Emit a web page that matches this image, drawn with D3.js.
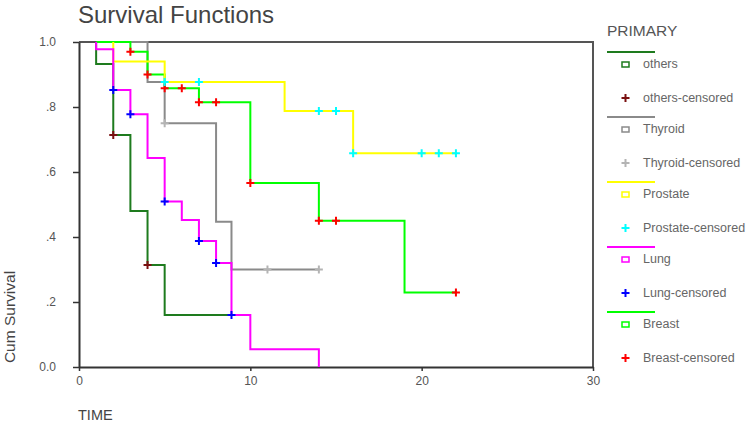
<!DOCTYPE html>
<html>
<head>
<meta charset="utf-8">
<script src="https://cdn.jsdelivr.net/npm/d3@7"></script>
<style>
  html, body { margin: 0; padding: 0; background: #fff; }
  svg { display: block; font-family: "Liberation Sans", Arial, sans-serif; }
</style>
</head>
<body>
<svg id="chart" width="749" height="426"></svg>
<script>
// ---------- DATA ----------
const groupNames = ["others", "Thyroid", "Prostate", "Lung", "Breast"];

const othersTime = [1, 1, 2, 3, 4, 5, 8.9];
const othersSurv = [1.0, 0.932, 0.714, 0.48, 0.314, 0.16, 0.16];
const othersCensTime = [2, 4];
const othersCensSurv = [0.714, 0.314];

const thyroidTime = [3, 4, 5, 8, 8.9, 14];
const thyroidSurv = [1.0, 0.877, 0.75, 0.447, 0.30, 0.30];
const thyroidCensTime = [5, 11, 14];
const thyroidCensSurv = [0.75, 0.30, 0.30];

const prostateTime = [2, 2, 5, 12, 16, 22];
const prostateSurv = [1.0, 0.94, 0.877, 0.788, 0.658, 0.658];
const prostateCensTime = [5, 7, 14, 15, 16, 20, 21, 22];
const prostateCensSurv = [0.877, 0.877, 0.788, 0.788, 0.658, 0.658, 0.658, 0.658];

const lungTime = [1, 1, 2, 3, 4, 5, 6, 7, 8, 8.9, 10, 14];
const lungSurv = [1.0, 0.978, 0.852, 0.778, 0.643, 0.509, 0.452, 0.388, 0.32, 0.16, 0.055, 0.0];
const lungCensTime = [2, 3, 5, 7, 8, 8.9];
const lungCensSurv = [0.852, 0.778, 0.509, 0.388, 0.32, 0.16];

const breastTime = [1, 3, 4, 5, 7, 10, 14, 19, 22];
const breastSurv = [1.0, 0.97, 0.90, 0.858, 0.815, 0.566, 0.45, 0.229, 0.229];
const breastCensTime = [3, 4, 5, 6, 7, 8, 10, 14, 15, 22];
const breastCensSurv = [0.97, 0.90, 0.858, 0.858, 0.815, 0.815, 0.566, 0.45, 0.45, 0.229];

const xTickValues = [0, 10, 20, 30];
const yTickValues = [0, 0.2, 0.4, 0.6, 0.8, 1.0];
const yTickLabels = ["0.0", ".2", ".4", ".6", ".8", "1.0"];

// ---------- STYLES ----------
const lineColors  = { others: "#1e7b1e", Thyroid: "#8a8a8a", Prostate: "#ffff00", Lung: "#ff00ff", Breast: "#00ff00" };
const censColors  = { others: "#7a1010", Thyroid: "#b4b4b4", Prostate: "#00ffff", Lung: "#0000ff", Breast: "#ff0000" };

const series = {
  others:   { t: othersTime,   s: othersSurv,   ct: othersCensTime,   cs: othersCensSurv },
  Thyroid:  { t: thyroidTime,  s: thyroidSurv,  ct: thyroidCensTime,  cs: thyroidCensSurv },
  Prostate: { t: prostateTime, s: prostateSurv, ct: prostateCensTime, cs: prostateCensSurv },
  Lung:     { t: lungTime,     s: lungSurv,     ct: lungCensTime,     cs: lungCensSurv },
  Breast:   { t: breastTime,   s: breastSurv,   ct: breastCensTime,   cs: breastCensSurv }
};
const drawOrder = ["others", "Thyroid", "Breast", "Prostate", "Lung"];

// ---------- LAYOUT ----------
const plot = { left: 79, right: 593, top: 42, bottom: 367 };
const svg = d3.select("#chart");

const x = d3.scaleLinear().domain([0, 30]).range([plot.left, plot.right]);
const y = d3.scaleLinear().domain([0, 1]).range([plot.bottom, plot.top]);

// frame (top + right)
svg.append("path")
  .attr("d", `M${plot.left},${plot.top}H${plot.right}V${plot.bottom}`)
  .attr("fill", "none").attr("stroke", "#555").attr("stroke-width", 2);

// axes
const yAxis = d3.axisLeft(y).tickValues(yTickValues)
  .tickFormat((d, i) => yTickLabels[i]).tickSizeInner(6).tickSizeOuter(0).tickPadding(17);
const gy = svg.append("g").attr("transform", `translate(${plot.left},0)`).call(yAxis);

const xAxis = d3.axisBottom(x).tickValues(xTickValues).tickFormat(d3.format("d"))
  .tickSizeInner(4).tickSizeOuter(0).tickPadding(5);
const gx = svg.append("g").attr("transform", `translate(0,${plot.bottom})`).call(xAxis);

[gy, gx].forEach(g => {
  g.select(".domain").attr("stroke", "#333").attr("stroke-width", 2);
  g.selectAll(".tick line").attr("stroke", "#333").attr("stroke-width", 1.5);
  g.selectAll(".tick text").attr("fill", "#555").style("font-size", "12px");
});

// curves
const line = d3.line().x(d => x(d[0])).y(d => y(d[1])).curve(d3.curveStepAfter);
drawOrder.forEach(name => {
  const sr = series[name];
  const pts = sr.t.map((t, i) => [t, sr.s[i]]);
  svg.append("path").datum(pts)
    .attr("d", line)
    .attr("fill", "none")
    .attr("stroke", lineColors[name])
    .attr("stroke-width", 2);
});

// censor marks
const plusPath = (cx, cy, r) => `M${cx - r},${cy}H${cx + r}M${cx},${cy - r}V${cy + r}`;
drawOrder.forEach(name => {
  const sr = series[name];
  sr.ct.forEach((t, i) => {
    svg.append("path")
      .attr("d", plusPath(x(t), y(sr.cs[i]), 4))
      .attr("stroke", censColors[name])
      .attr("stroke-width", 2)
      .attr("fill", "none");
  });
});

// titles
svg.append("text").attr("x", 78).attr("y", 23)
  .attr("fill", "#444").style("font-size", "24px")
  .text("Survival Functions");

svg.append("text").attr("x", 78).attr("y", 420)
  .attr("fill", "#444").style("font-size", "14.5px")
  .text("TIME");

svg.append("text")
  .attr("transform", "translate(15,317) rotate(-90)")
  .attr("text-anchor", "middle")
  .attr("fill", "#444").style("font-size", "15.5px")
  .text("Cum Survival");

// legend
const legend = svg.append("g");
legend.append("text").attr("x", 607).attr("y", 36)
  .attr("fill", "#555").style("font-size", "15.5px")
  .text("PRIMARY");

groupNames.forEach((name, i) => {
  const y0 = 52 + 65 * i;
  legend.append("line")
    .attr("x1", 607).attr("x2", 655).attr("y1", y0).attr("y2", y0)
    .attr("stroke", lineColors[name]).attr("stroke-width", 2);
  legend.append("rect")
    .attr("x", 622).attr("y", y0 + 10).attr("width", 7).attr("height", 5)
    .attr("fill", "#fff").attr("stroke", lineColors[name]).attr("stroke-width", 1.5);
  legend.append("text").attr("x", 643).attr("y", y0 + 16)
    .attr("fill", "#666").style("font-size", "12.5px")
    .text(name);
  legend.append("path")
    .attr("d", plusPath(625.5, y0 + 46, 4))
    .attr("stroke", censColors[name]).attr("stroke-width", 2).attr("fill", "none");
  legend.append("text").attr("x", 643).attr("y", y0 + 50)
    .attr("fill", "#666").style("font-size", "12.5px")
    .text(name + "-censored");
});
</script>
</body>
</html>
